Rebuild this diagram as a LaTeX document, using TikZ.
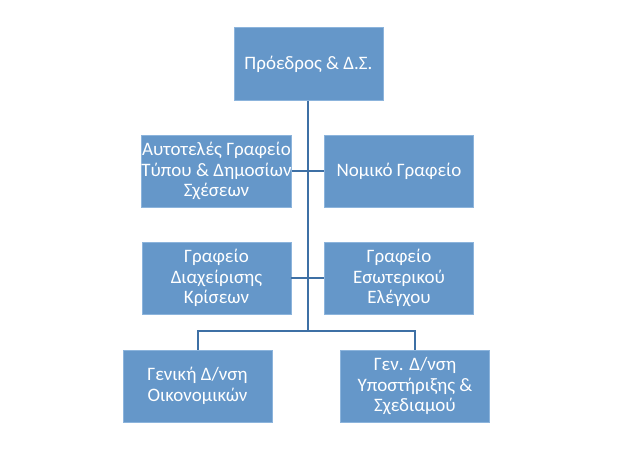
\documentclass[tikz,border=0pt]{standalone}
\usepackage{fontspec}
\setmainfont{Carlito}
\definecolor{boxfill}{RGB}{101,151,201}
\definecolor{boxedge}{RGB}{140,180,220}
\definecolor{linecol}{RGB}{62,112,165}
\begin{document}
\begin{tikzpicture}[x=1pt,y=-1pt,
  orgbox/.style={draw=boxedge,line width=0.6pt,fill=boxfill,text=white,
    minimum width=149pt,minimum height=72pt,inner sep=0pt,align=center,
    font=\fontsize{19}{20.5}\selectfont},
  conn/.style={draw=linecol,line width=2pt}]
\useasboundingbox (0,0) rectangle (640,448);
\node[orgbox,minimum height=73pt] (top) at (308.5,64) {Πρόεδρος \& Δ.Σ.};
\node[orgbox] (a) at (216.5,171) {Αυτοτελές Γραφείο\\Τύπου \& Δημοσίων\\Σχέσεων};
\node[orgbox] (b) at (399,171) {Νομικό Γραφείο};
\node[orgbox] (c) at (216.5,278) {Γραφείο\\Διαχείρισης\\Κρίσεων};
\node[orgbox] (d) at (399,278) {Γραφείο\\Εσωτερικού\\Ελέγχου};
\node[orgbox] (e) at (197.5,386) {Γενική Δ/νση\\Οικονομικών};
\node[orgbox] (f) at (415,386) {Γεν. Δ/νση\\Υποστήριξης \&\\Σχεδιαμού};
\coordinate (j) at (307.5,331);
\draw[conn] (a.east) -- (b.west);
\draw[conn] (c.east) -- (d.west);
\draw[conn] (307.5,100.5) -- (j);
\draw[conn] (e.north) |- (j) -| (f.north);
\end{tikzpicture}
\end{document}
